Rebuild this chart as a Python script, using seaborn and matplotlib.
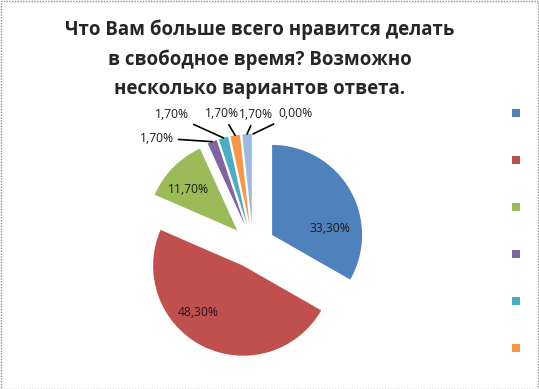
import numpy as np
import matplotlib
matplotlib.use("Agg")
import matplotlib.pyplot as plt
import seaborn as sns
from matplotlib.patches import Rectangle

# data (percent of answers)
shares = [33.3, 48.3, 11.7, 1.7, 1.7, 1.7, 1.7, 0.0]
colors = ["#4F81BD", "#C0504D", "#9BBB59", "#8064A2",
          "#4BACC6", "#F79646", "#9DB9E0", "#2C4D75"]
title = "Что Вам больше всего нравится делать\nв свободное время? Возможно\nнесколько вариантов ответа."

# label placement (in pie-radius units, relative to pie centre)
inner_pos = [(0.86, 0.20), (-0.61, -0.74), (-0.72, 0.63)]
outer_pos = [(-1.07, 1.20), (-0.90, 1.46), (-0.34, 1.47), (0.03, 1.46), (0.47, 1.47)]

sns.set_style("white")
plt.rcParams["font.family"] = ["Open Sans", "DejaVu Sans"]

W, H = 539, 389
fig = plt.figure(figsize=(W / 100, H / 100), dpi=100)

# pie centre at (253, 246) px, radius 90 px
cx, cy, r = 253, 246, 90
half = 120
ax = fig.add_axes([(cx - half) / W, (H - cy - half) / H, 2 * half / W, 2 * half / H])

explode = [0.245] * len(shares)
wedges, _ = ax.pie(shares, colors=colors, startangle=90, counterclock=False,
                   explode=explode, radius=1, wedgeprops=dict(linewidth=0))
ax.set_xlim(-half / r, half / r)
ax.set_ylim(-half / r, half / r)
ax.set_aspect("equal")
ax.axis("off")

labels = [f"{v:.2f}%".replace(".", ",") for v in shares]

for w, lab, pos in zip(wedges[:3], labels[:3], inner_pos):
    ax.text(pos[0], pos[1], lab, ha="center", va="center", fontsize=8.7, color="#1a1a1a")

for w, lab, pos in zip(wedges[3:], labels[3:], outer_pos):
    ang = np.deg2rad((w.theta1 + w.theta2) / 2)
    d = 1 + explode[0]
    xy = (d * np.cos(ang), d * np.sin(ang))
    ax.annotate(lab, xy=xy, xytext=pos, ha="center", va="center", fontsize=8.7,
                color="#1a1a1a", annotation_clip=False,
                arrowprops=dict(arrowstyle="-", color="black", lw=1.2,
                                shrinkA=1, shrinkB=0))

fig.text(260 / W, 1 - 19 / H, title, ha="center", va="top", fontsize=13.4,
         fontweight="bold", linespacing=1.62)

fig.legend(wedges[:6], [""] * 6, loc="upper left",
           bbox_to_anchor=(505 / W, 1 - 100 / H), frameon=False,
           handlelength=0.55, handleheight=0.55, handletextpad=0,
           fontsize=10, labelspacing=2.3, borderpad=0)

fig.patches.append(Rectangle((0.5 / W, 0.5 / H), 1 - 1.5 / W, 1 - 1.5 / H,
                             transform=fig.transFigure, fill=False,
                             edgecolor="#8c8c8c", linestyle=(0, (1, 1)), lw=1))

fig.savefig("out.png", dpi=100)
